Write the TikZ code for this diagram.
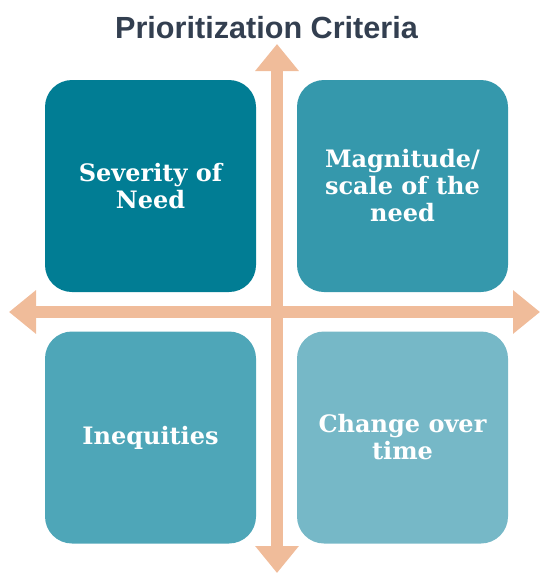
\documentclass[tikz,border=0pt]{standalone}
\usepackage{fontspec}
\setmainfont{DejaVu Serif}
\newfontfamily\titlefont{Liberation Sans}
\usetikzlibrary{arrows.meta}
\definecolor{titlecol}{HTML}{333F50}
\definecolor{arrowcol}{HTML}{F0BC9A}
\definecolor{boxA}{HTML}{017D94}
\definecolor{boxB}{HTML}{3598AC}
\definecolor{boxC}{HTML}{4EA6B8}
\definecolor{boxD}{HTML}{76B8C7}
\tikzset{
  quad/.style={minimum width=211pt, minimum height=212pt, rounded corners=27pt,
    inner sep=0pt, text=white, align=center, font=\bfseries\fontsize{24}{27}\selectfont},
  axis/.style={draw=arrowcol, line width=12pt,
    {Triangle[width=42pt,length=27pt]}-{Triangle[width=42pt,length=27pt]}},
}
\begin{document}
\begin{tikzpicture}[x=1pt,y=-1pt]
\useasboundingbox (0,0) rectangle (541,573);
\coordinate (vtop) at (277,44);
\coordinate (vbot) at (277,573);
\coordinate (hl) at (9,312);
\coordinate (hr) at (540,312);
\draw[axis] (vtop) -- (vbot);
\draw[axis] (hl) -- (hr);
\node[quad, fill=boxA] (sev) at (150.5,186) {Severity of\\Need};
\node[quad, fill=boxB] (mag) at (402.5,186) {Magnitude/\\scale of the\\need};
\node[quad, fill=boxC] (ineq) at (150.5,437.5) {Inequities};
\node[quad, fill=boxD] (chg) at (402.5,437.5) {Change over\\time};
\node[anchor=base, text=titlecol, font=\titlefont\bfseries\fontsize{30.6}{34}\selectfont] (title) at (266.5,38) {Prioritization Criteria};
\end{tikzpicture}
\end{document}
